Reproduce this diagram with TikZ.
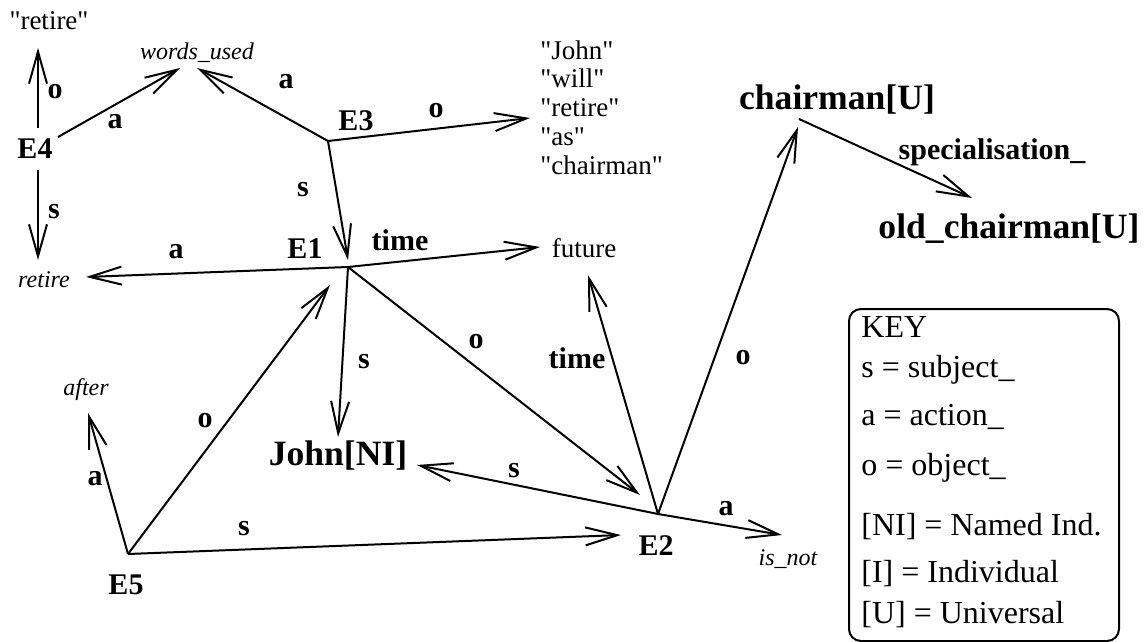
\documentclass[tikz,border=0pt]{standalone}
\usepackage{fontspec}
\setmainfont{Liberation Serif}
\usetikzlibrary{arrows.meta}
\newcommand{\qw}[1]{\textquotedbl#1\textquotedbl}
\begin{document}
\begin{tikzpicture}[x=0.5pt,y=-0.5pt,
  link/.style={line width=1pt,-{Straight Barb[length=16pt,width=9pt]}},
  txt/.style={inner sep=0pt,anchor=base},
  ev/.style={txt,font=\fontsize{15}{18}\selectfont\bfseries},
  lbl/.style={txt,font=\fontsize{15}{18}\selectfont\bfseries},
  concept/.style={txt,font=\fontsize{17.8}{21}\selectfont\bfseries},
  word/.style={txt,font=\fontsize{13.5}{16}\selectfont},
  rel/.style={txt,font=\fontsize{12}{14}\selectfont\itshape},
  wordline/.style={inner sep=0pt,anchor=base west,font=\fontsize{13.5}{16}\selectfont},
  keyline/.style={inner sep=0pt,anchor=base west,font=\fontsize{16}{19}\selectfont},
  keybox/.style={draw,line width=1pt,rounded corners=6pt,inner sep=0pt,anchor=north west}]
\useasboundingbox (0,0) rectangle (1146,642);

% ---- event junctions ----
\coordinate (E1) at (348,267);
\coordinate (E2) at (658,514);
\coordinate (E3) at (328,141);
\coordinate (E5) at (128,554);
\coordinate (E4o) at (38,128);
\coordinate (E4a) at (58,137);
\coordinate (E4s) at (38,170);

% ---- arrow ends next to their targets ----
\coordinate (qretireIn) at (38,48);
\coordinate (wuInA) at (180,68);
\coordinate (wuInB) at (197,68);
\coordinate (retireIn) at (86,277);
\coordinate (retireInB) at (38,260);
\coordinate (listIn) at (530,118);
\coordinate (E1in) at (348,260);
\coordinate (E1inB) at (330,285);
\coordinate (futureIn) at (540,247);
\coordinate (futureInB) at (588,275);
\coordinate (johnIn) at (338,437);
\coordinate (johnInB) at (417,465);
\coordinate (E2in) at (640,495);
\coordinate (E2inB) at (621,535);
\coordinate (chairIn) at (798,127);
\coordinate (chairOut) at (799,119);
\coordinate (oldIn) at (972,198);
\coordinate (isnotIn) at (782,535);
\coordinate (afterIn) at (88,413);

% ---- event names ----
\node[ev] (nE1) at (305,258) {E1};
\node[ev] (nE2) at (656,555) {E2};
\node[ev] (nE3) at (356,131) {E3};
\node[ev] (nE4) at (35,159) {E4};
\node[ev] (nE5) at (126,594) {E5};

% ---- concepts ----
\node[concept] (john) at (338,465) {John[NI]};
\node[concept] (chairman) at (837,110) {chairman[U]};
\node[concept] (oldch) at (1009,238) {old\_chairman[U]};

% ---- relation types and plain words ----
\node[rel] (wordsused) at (197,60) {words\_used};
\node[rel] (retire) at (44,287) {retire};
\node[rel] (after) at (86,395) {after};
\node[rel] (isnot) at (788,565) {is\_not};
\node[word] (qretire) at (49,30) {\qw{retire}};
\node[word] (future) at (584,257) {future};

% ---- the quoted word list ----
\node[wordline] (w1) at (540,60) {\qw{John}};
\node[wordline] (w2) at (540,88) {\qw{will}};
\node[wordline] (w3) at (540,117) {\qw{retire}};
\node[wordline] (w4) at (540,146) {\qw{as}};
\node[wordline] (w5) at (540,175) {\qw{chairman}};

% ---- connectors ----
\draw[link] (E4o) -- (qretireIn);
\draw[link] (E4a) -- (wuInA);
\draw[link] (E4s) -- (retireInB);
\draw[link] (E3) -- (wuInB);
\draw[link] (E3) -- (listIn);
\draw[link] (E3) -- (E1in);
\draw[link] (E1) -- (retireIn);
\draw[link] (E1) -- (futureIn);
\draw[link] (E1) -- (johnIn);
\draw[link] (E1) -- (E2in);
\draw[link] (E2) -- (johnInB);
\draw[link] (E2) -- (futureInB);
\draw[link] (E2) -- (chairIn);
\draw[link] (E2) -- (isnotIn);
\draw[link] (E5) -- (afterIn);
\draw[link] (E5) -- (E1inB);
\draw[link] (E5) -- (E2inB);
\draw[link] (chairOut) -- (oldIn);

% ---- connector labels ----
\node[lbl] (lo4) at (55,98) {o};
\node[lbl] (la4) at (115,128) {a};
\node[lbl] (ls4) at (54,218) {s};
\node[lbl] (la3) at (286,89) {a};
\node[lbl] (lo3) at (436,118) {o};
\node[lbl] (ls3) at (303,197) {s};
\node[lbl] (la1) at (176,258) {a};
\node[lbl] (lt1) at (400,250) {time};
\node[lbl] (ls1) at (364,368) {s};
\node[lbl] (lo1) at (476,348) {o};
\node[lbl] (ls2) at (514,477) {s};
\node[lbl] (lt2) at (577,368) {time};
\node[lbl] (lo2) at (743,364) {o};
\node[lbl] (la2) at (726,515) {a};
\node[lbl] (la5) at (95,485) {a};
\node[lbl] (lo5) at (205,427) {o};
\node[lbl] (ls5) at (244,535) {s};
\node[lbl] (lspec) at (992,160) {specialisation\_};

% ---- key ----
\node[keybox,minimum width=135pt,minimum height=166pt] (key) at (848,308) {};
\node[keyline] (k0) at (861,337) {KEY};
\node[keyline] (k1) at (861,377) {s = subject\_};
\node[keyline] (k2) at (861,425) {a = action\_};
\node[keyline] (k3) at (861,475) {o = object\_};
\node[keyline] (k4) at (861,535) {[NI] = Named Ind.};
\node[keyline] (k5) at (861,582) {[I] = Individual};
\node[keyline] (k6) at (861,623) {[U] = Universal};
\end{tikzpicture}
\end{document}
